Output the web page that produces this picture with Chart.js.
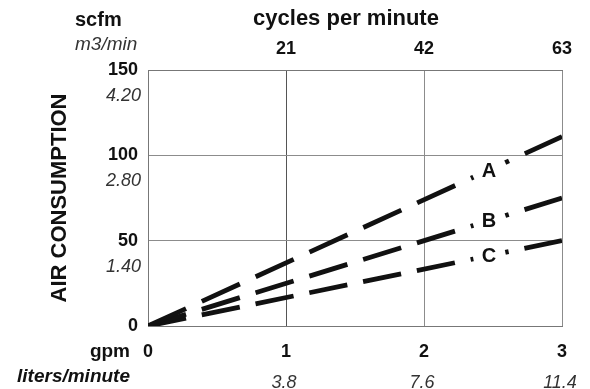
<!DOCTYPE html>
<html>
<head>
<meta charset="utf-8">
<script src="https://cdn.jsdelivr.net/npm/chart.js@4"></script>
<style>
  body { margin: 0; background: #fff; }
  #wrap { width: 590px; height: 389px; }
</style>
</head>
<body>
<div id="wrap"><canvas id="airChart" width="590" height="389"></canvas></div>
<script>
// axis ticks
const gpmTicks = [0, 1, 2, 3];
const cycleLabels = ['21', '42', '63'];
const literLabels = ['3.8', '7.6', '11.4'];
const scfmTicks = [0, 50, 100, 150];
const m3Labels = ['1.40', '2.80', '4.20'];

// series (gpm -> scfm)
const seriesNames = ['A', 'B', 'C'];
const seriesGpm = [0, 3];
const seriesA = [0, 111];
const seriesB = [0, 75];
const seriesC = [0, 50];
const labelGpm = 2.47;

const FONT = '"Liberation Sans", Arial, Helvetica, sans-serif';

function toPoints(values) {
    return seriesGpm.map((g, i) => ({ x: g, y: values[i] }));
}

// letters sitting on the dashed lines
const lineLabels = {
    id: 'lineLabels',
    afterDatasetsDraw(chart) {
        const { ctx, scales: { x, y } } = chart;
        chart.data.datasets.forEach((ds, i) => {
            const x0 = x.getPixelForValue(ds.data[0].x), y0 = y.getPixelForValue(ds.data[0].y);
            const x1 = x.getPixelForValue(ds.data[1].x), y1 = y.getPixelForValue(ds.data[1].y);
            const px = x.getPixelForValue(labelGpm);
            const py = y0 + (px - x0) / (x1 - x0) * (y1 - y0);
            const ang = Math.atan2(y1 - y0, x1 - x0);
            ctx.save();
            ctx.translate(px, py);
            ctx.rotate(ang);
            ctx.fillStyle = '#fff';
            const half = 15.5 / Math.cos(ang);
            ctx.fillRect(-half, -4, half * 2 + 1, 8);
            ctx.restore();
            ctx.save();
            ctx.fillStyle = '#111';
            ctx.font = 'bold 20px ' + FONT;
            ctx.textAlign = 'center';
            ctx.textBaseline = 'middle';
            ctx.fillText(seriesNames[i], px, py + 1);
            ctx.restore();
        });
    }
};

// unit captions and the metric tick labels
const unitText = {
    id: 'unitText',
    afterDraw(chart) {
        const { ctx, scales: { x, y } } = chart;
        ctx.save();
        ctx.fillStyle = '#111';
        ctx.textBaseline = 'alphabetic';

        ctx.font = 'bold 22px ' + FONT;
        ctx.textAlign = 'center';
        ctx.fillText('cycles per minute', 346, 25);

        ctx.textAlign = 'left';
        ctx.font = 'bold 20px ' + FONT;
        ctx.fillText('scfm', 75, 26);
        ctx.fillStyle = '#333';
        ctx.font = 'italic 19px ' + FONT;
        ctx.fillText('m3/min', 75, 50);

        ctx.fillStyle = '#111';
        ctx.textAlign = 'right';
        ctx.font = 'bold 19px ' + FONT;
        ctx.fillText('gpm', 130, 357);
        ctx.font = 'italic bold 19px ' + FONT;
        ctx.fillText('liters/minute', 130, 382);

        ctx.fillStyle = '#333';
        ctx.font = 'italic 18px ' + FONT;
        m3Labels.forEach((t, i) => {
            ctx.fillText(t, 141, y.getPixelForValue(scfmTicks[i + 1]) + 31);
        });
        ctx.textAlign = 'center';
        literLabels.forEach((t, i) => {
            ctx.fillText(t, x.getPixelForValue(gpmTicks[i + 1]) - 2, 388);
        });
        ctx.restore();
    }
};

const ctx = document.getElementById('airChart').getContext('2d');
new Chart(ctx, {
    type: 'line',
    data: {
        datasets: [
            { label: 'A', data: toPoints(seriesA), borderDash: [41.8, 17.4] },
            { label: 'B', data: toPoints(seriesB), borderDash: [39.8, 16.5] },
            { label: 'C', data: toPoints(seriesC), borderDash: [38.8, 16.1] }
        ].map(d => Object.assign(d, {
            borderColor: '#111',
            borderWidth: 4.8,
            pointRadius: 0,
            fill: false,
            tension: 0
        }))
    },
    options: {
        responsive: false,
        animation: false,
        layout: { padding: { left: 0, right: 28, top: 0, bottom: 0 } },
        plugins: {
            legend: { display: false },
            tooltip: { enabled: false }
        },
        scales: {
            x: {
                type: 'linear',
                position: 'bottom',
                min: 0,
                max: 3,
                afterBuildTicks: s => { s.ticks = gpmTicks.map(v => ({ value: v })); },
                afterFit: s => { s.height = 63; },
                ticks: {
                    color: '#111',
                    padding: 15,
                    font: { family: FONT, size: 18, weight: 'bold' }
                },
                grid: {
                    drawTicks: false,
                    color: c => (c.tick && c.tick.value === 1) ? '#555' : '#8c8c8c'
                },
                border: { color: '#777' }
            },
            x2: {
                type: 'linear',
                position: 'top',
                min: 0,
                max: 3,
                afterBuildTicks: s => { s.ticks = gpmTicks.map(v => ({ value: v })); },
                afterFit: s => { s.height = 70; },
                ticks: {
                    color: '#111',
                    padding: 10,
                    font: { family: FONT, size: 18, weight: 'bold' },
                    callback: (v, i) => i === 0 ? '' : cycleLabels[i - 1]
                },
                grid: { display: false, drawTicks: false },
                border: { color: '#777' }
            },
            y: {
                type: 'linear',
                min: 0,
                max: 150,
                afterBuildTicks: s => { s.ticks = scfmTicks.map(v => ({ value: v })); },
                afterFit: s => { s.width = 148; },
                title: {
                    display: true,
                    text: 'AIR CONSUMPTION',
                    color: '#111',
                    font: { family: FONT, size: 22, weight: 'bold' },
                    padding: { top: 47, bottom: 0 }
                },
                ticks: {
                    color: '#111',
                    padding: 10,
                    font: { family: FONT, size: 18, weight: 'bold' }
                },
                grid: { drawTicks: false, color: '#8c8c8c' },
                border: { color: '#777' }
            }
        }
    },
    plugins: [lineLabels, unitText]
});
</script>
</body>
</html>
